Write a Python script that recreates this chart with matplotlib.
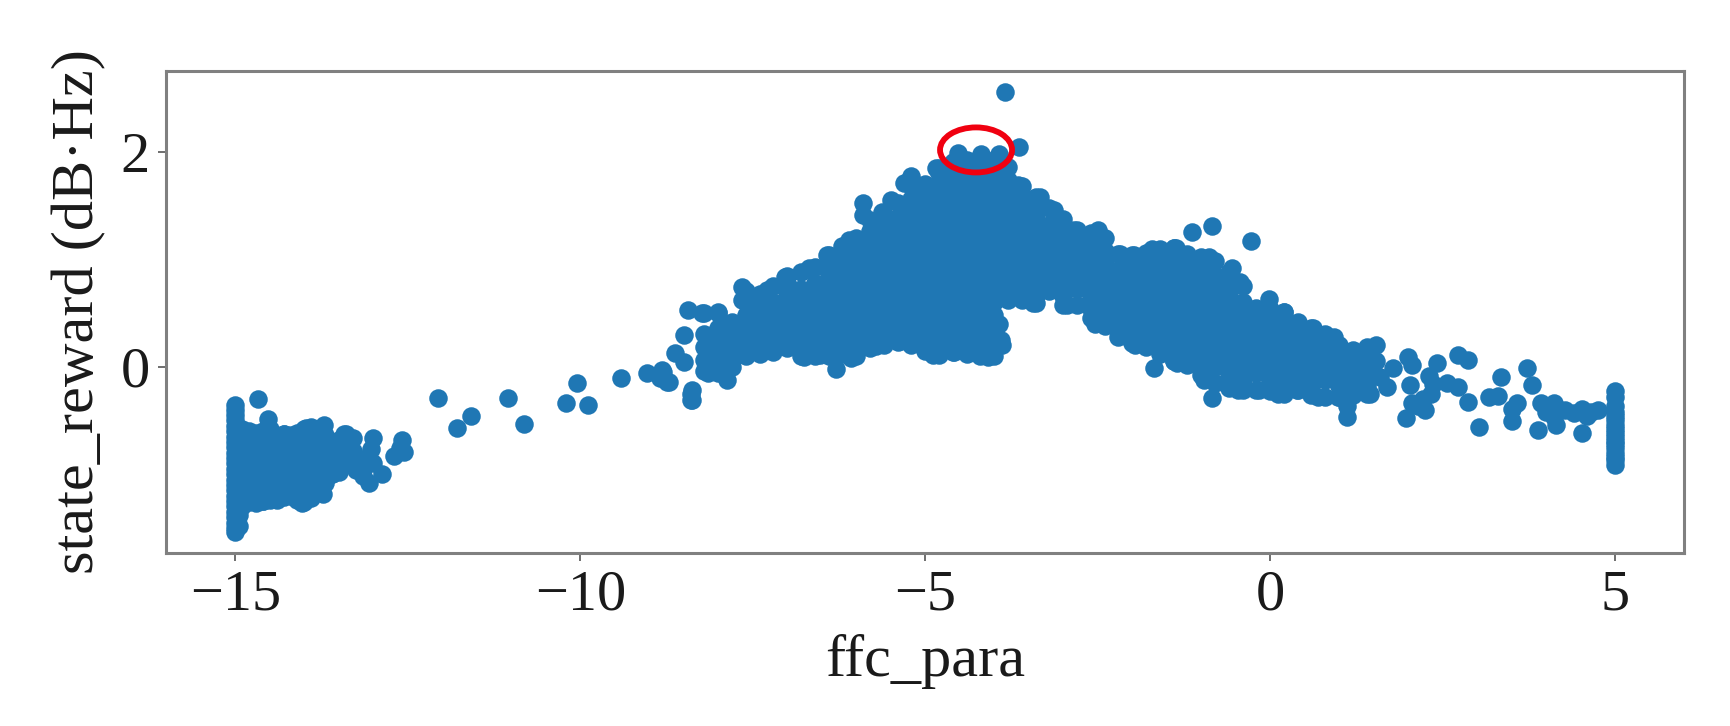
from matplotlib import pyplot as plt
from matplotlib.patches import Ellipse

plt.rcParams['font.family'] = ['Liberation Serif', 'DejaVu Serif']

# points, sparse ones first
sparse_x = [-12.06, -11.79, -11.58, -11.05, -10.81, -10.05, -10.21, -9.89, -9.41, -9.04, -8.82, -8.85, -8.71,
            -8.38, -8.38, -8.75, -8.80, -8.39, -8.39]
sparse_y = [-0.29, -0.566, -0.46, -0.29, -0.53, -0.15, -0.34, -0.36, -0.11, -0.055, -0.03, -0.11, -0.14,
            -0.217, -0.31, -0.14, -0.05, -0.25, -0.31]

# left block, column at the clip value first
left_col_x = [-15.0, -14.9, -14.8, -14.7, -14.6, -14.5, -14.4, -14.3, -14.2, -14.1, -14.0, -13.9, -13.8, -13.7,
              -13.6, -13.5, -13.4, -13.3]
left_col_y = [
    [-0.36, -0.40, -0.45, -0.50, -0.55, -0.60, -0.65, -0.70, -0.75, -0.80, -0.85, -0.90, -0.95, -1.00, -1.05,
     -1.10, -1.15, -1.20, -1.25, -1.30, -1.35, -1.40, -1.45, -1.50, -1.535],
    [-0.58, -0.70, -0.82, -0.94, -1.06, -1.18, -1.30],
    [-0.60, -0.66, -0.78, -0.90, -1.02, -1.14, -1.26],
    [-0.62, -0.72, -0.84, -0.96, -1.08, -1.20, -1.27],
    [-0.60, -0.72, -0.84, -0.96, -1.08, -1.20, -1.25],
    [-0.58, -0.66, -0.78, -0.90, -1.02, -1.14, -1.24],
    [-0.66, -0.78, -0.90, -1.02, -1.14, -1.24],
    [-0.63, -0.72, -0.84, -0.96, -1.08, -1.20],
    [-0.64, -0.72, -0.84, -0.96, -1.08, -1.20],
    [-0.62, -0.78, -0.90, -1.02, -1.14, -1.24],
    [-0.58, -0.66, -0.78, -0.90, -1.02, -1.14, -1.26],
    [-0.56, -0.72, -0.84, -0.96, -1.08, -1.22],
    [-0.58, -0.72, -0.84, -0.96, -1.08, -1.16],
    [-0.64, -0.78, -0.90, -1.00, -1.08],
    [-0.70, -0.78, -0.90, -1.00],
    [-0.68, -0.80, -0.90, -0.98],
    [-0.63, -0.72, -0.84, -0.90],
    [-0.66, -0.78, -0.88],
]
left_x = [-14.67, -14.53, -14.3, -13.97, -13.72, -13.87, -13.42, -13.53, -13.0, -13.03, -12.58, -12.55, -12.70,
          -12.88, -13.07, -13.25, -13.25, -13.6, -13.73, -14.03, -14.3, -14.6, -13.0, -13.1, -14.95, -14.95,
          -13.15, -13.15, -12.62]
left_y = [-0.30, -0.49, -0.63, -0.57, -0.54, -0.58, -0.63, -0.70, -0.66, -0.77, -0.68, -0.79, -0.83,
          -1.0, -1.08, -0.85, -0.96, -1.0, -1.18, -1.27, -1.21, -1.25, -0.9, -0.85, -1.38, -1.48,
          -0.95, -1.02, -0.76]

# main cloud, one y list per x column
core_x = [-8.2, -8.0, -7.8, -7.6, -7.4, -7.2, -7.0, -6.8, -6.6, -6.4, -6.2, -6.0, -5.8, -5.6, -5.4, -5.2, -5.0,
          -4.8, -4.6, -4.4, -4.2, -4.0, -3.8, -3.6, -3.4, -3.2, -3.0, -2.8, -2.6, -2.4, -2.2, -2.0, -1.8, -1.6,
          -1.4, -1.2, -1.0, -0.8, -0.6, -0.4, -0.2, 0.0, 0.2, 0.4, 0.6, 0.8, 1.0, 1.2, 1.4]
core_y = [
    [-0.04, 0.06, 0.18, 0.30, 0.50],
    [-0.06, 0.00, 0.12, 0.24, 0.36, 0.50],
    [0.00, 0.06, 0.18, 0.30, 0.42],
    [0.10, 0.24, 0.36, 0.48, 0.60, 0.70],
    [0.12, 0.18, 0.30, 0.42, 0.54, 0.68],
    [0.14, 0.24, 0.36, 0.48, 0.60, 0.75],
    [0.17, 0.30, 0.42, 0.54, 0.66, 0.78, 0.84],
    [0.10, 0.24, 0.36, 0.48, 0.60, 0.72, 0.88],
    [0.10, 0.18, 0.30, 0.42, 0.54, 0.66, 0.78, 0.93],
    [0.10, 0.24, 0.36, 0.48, 0.60, 0.72, 0.84, 0.96, 1.04],
    [0.12, 0.18, 0.30, 0.42, 0.54, 0.66, 0.78, 0.90, 1.02, 1.12],
    [0.10, 0.24, 0.36, 0.48, 0.60, 0.72, 0.84, 0.96, 1.08, 1.20],
    [0.17, 0.30, 0.42, 0.54, 0.66, 0.78, 0.90, 1.02, 1.14, 1.26, 1.36],
    [0.20, 0.24, 0.36, 0.48, 0.60, 0.72, 0.84, 0.96, 1.08, 1.20, 1.32, 1.42],
    [0.23, 0.30, 0.42, 0.54, 0.66, 0.78, 0.90, 1.02, 1.14, 1.26, 1.38, 1.52],
    [0.20, 0.24, 0.36, 0.48, 0.60, 0.72, 0.84, 0.96, 1.08, 1.20, 1.32, 1.44, 1.56, 1.68, 1.75],
    [0.15, 0.18, 0.30, 0.42, 0.54, 0.66, 0.78, 0.90, 1.02, 1.14, 1.26, 1.38, 1.50, 1.62, 1.70],
    [0.11, 0.24, 0.36, 0.48, 0.60, 0.72, 0.84, 0.96, 1.08, 1.20, 1.32, 1.44, 1.56, 1.68, 1.80, 1.85],
    [0.14, 0.18, 0.30, 0.42, 0.54, 0.66, 0.78, 0.90, 1.02, 1.14, 1.26, 1.38, 1.50, 1.62, 1.74, 1.86, 1.90],
    [0.12, 0.24, 0.36, 0.48, 0.60, 0.72, 0.84, 0.96, 1.08, 1.20, 1.32, 1.44, 1.56, 1.68, 1.80, 1.92],
    [0.10, 0.18, 0.30, 0.42, 0.54, 0.66, 0.78, 0.90, 1.02, 1.14, 1.26, 1.38, 1.50, 1.62, 1.74, 1.86, 1.92],
    [0.10, 0.24, 0.36, 0.48, 0.60, 0.72, 0.84, 0.96, 1.08, 1.20, 1.32, 1.44, 1.56, 1.68, 1.80, 1.92],
    [0.62, 0.66, 0.78, 0.90, 1.02, 1.14, 1.26, 1.38, 1.50, 1.62, 1.74, 1.86],
    [0.62, 0.72, 0.84, 0.96, 1.08, 1.20, 1.32, 1.44, 1.56, 1.68],
    [0.59, 0.66, 0.78, 0.90, 1.02, 1.14, 1.26, 1.38, 1.50, 1.58],
    [0.70, 0.72, 0.84, 0.96, 1.08, 1.20, 1.32, 1.48],
    [0.575, 0.66, 0.78, 0.90, 1.02, 1.14, 1.26, 1.37],
    [0.575, 0.72, 0.84, 0.96, 1.08, 1.20, 1.27],
    [0.45, 0.54, 0.66, 0.78, 0.90, 1.02, 1.14, 1.24],
    [0.38, 0.48, 0.60, 0.72, 0.84, 0.96, 1.08, 1.20],
    [0.28, 0.42, 0.54, 0.66, 0.78, 0.90, 1.05],
    [0.22, 0.36, 0.48, 0.60, 0.72, 0.84, 0.96, 1.04],
    [0.18, 0.30, 0.42, 0.54, 0.66, 0.78, 0.90, 1.02, 1.06],
    [0.12, 0.24, 0.36, 0.48, 0.60, 0.72, 0.84, 0.96, 1.09],
    [0.05, 0.18, 0.30, 0.42, 0.54, 0.66, 0.78, 0.90, 1.02, 1.10],
    [0.02, 0.12, 0.24, 0.36, 0.48, 0.60, 0.72, 0.84, 0.96, 1.05],
    [-0.08, 0.06, 0.18, 0.30, 0.42, 0.54, 0.66, 0.78, 0.90, 1.02],
    [-0.15, 0.00, 0.12, 0.24, 0.36, 0.48, 0.60, 0.72, 0.84, 0.98],
    [-0.20, -0.06, 0.06, 0.18, 0.30, 0.42, 0.54, 0.66, 0.78, 0.88],
    [-0.22, -0.12, 0.00, 0.12, 0.24, 0.36, 0.48, 0.60, 0.75],
    [-0.22, -0.06, 0.06, 0.18, 0.30, 0.42, 0.55],
    [-0.23, -0.12, 0.00, 0.12, 0.24, 0.36, 0.48, 0.54],
    [-0.25, -0.18, -0.06, 0.06, 0.18, 0.30, 0.42, 0.51],
    [-0.22, -0.12, 0.00, 0.12, 0.24, 0.36, 0.42],
    [-0.26, -0.18, -0.06, 0.06, 0.18, 0.30, 0.36],
    [-0.28, -0.12, 0.00, 0.12, 0.24, 0.30],
    [-0.28, -0.18, -0.06, 0.06, 0.20],
    [-0.26, -0.12, 0.00, 0.14],
    [-0.25, -0.18, -0.06, 0.06, 0.18],
]

# points standing off the edge of the cloud
edge_x = [-3.837, -3.635, -4.53, -4.40, -4.185, -3.935, -8.44, -8.23, -8.0, -8.5, -8.63, -8.49, -7.66, -7.66,
          -7.30, -7.03, -6.68, -6.42, -6.11, -5.90, -5.90, -5.49, -5.62, -5.20, -5.31, -4.84, -3.81, -3.65, -3.34,
          -3.13, -2.85, -2.49, -2.18, -1.97, -1.71, -1.40, -7.87, -8.15, -6.75, -6.52, -6.08, -6.30, -5.72, -5.36,
          -4.89, -4.58, -4.09, -3.93, -3.90, -3.88, -3.44, -2.95, -2.54, -1.97, -1.69, -1.40, -0.84, -1.13, -0.27,
          -1.37, -0.88, -0.55, -0.44, -0.01, 0.20, -0.30, 0.615, 0.92, 1.53, 1.20, 1.11, 1.11, -1.35, -0.96, -0.47,
          -0.16, 0.12, 0.39, 0.70, 0.98, 1.45, -0.84, -1.96]
edge_y = [2.552, 2.04, 1.985, 1.90, 1.978, 1.978, 0.527, 0.50, 0.51, 0.295, 0.127, 0.04, 0.744, 0.62,
          0.71, 0.837, 0.915, 1.04, 1.18, 1.52, 1.41, 1.55, 1.44, 1.77, 1.71, 1.85, 1.86, 1.69, 1.58,
          1.46, 1.27, 1.27, 1.05, 1.04, 1.09, 1.10, -0.125, -0.06, 0.09, 0.11, 0.08, -0.02, 0.19, 0.235,
          0.11, 0.14, 0.09, 0.40, 0.25, 0.20, 0.59, 0.575, 0.40, 0.22, -0.015, 0.05, 1.309, 1.25, 1.17,
          1.10, 1.02, 0.915, 0.79, 0.63, 0.51, 0.54, 0.357, 0.28, 0.20, 0.155, -0.37, -0.47, 0.03, -0.12, -0.22,
          -0.22, -0.25, -0.22, -0.28, -0.28, -0.25, -0.29, 0.20]

# right tail
right_x = [1.53, 1.78, 1.70, 1.60, 2.0, 2.06, 2.03, 2.05, 1.97, 2.25, 2.33, 2.31, 2.42, 2.56, 2.72, 2.72, 2.87, 2.87,
           3.166, 3.30, 3.345, 3.03, 3.58, 3.50, 3.50, 3.72, 3.80, 3.88, 3.92, 4.11, 4.11, 4.14, 4.28, 4.515, 4.515,
           4.59, 4.75, 2.15, 2.22, 2.36, 4.0, 4.4, 4.65]
right_y = [0.05, -0.016, -0.19, -0.10, 0.093, 0.015, -0.17, -0.34, -0.48, -0.40, -0.25, -0.09, 0.03, -0.15, 0.11, -0.19,
           0.06, -0.33, -0.28, -0.27, -0.10, -0.565, -0.335, -0.39, -0.51, -0.015, -0.17, -0.59, -0.34, -0.34, -0.465,
           -0.54, -0.40, -0.39, -0.62, -0.46, -0.40, -0.37, -0.30, -0.16, -0.42, -0.43, -0.42]
clip_right_y = [-0.23, -0.28, -0.37, -0.42, -0.46, -0.50, -0.54, -0.58, -0.62, -0.65, -0.69, -0.72, -0.76, -0.80,
                -0.84, -0.87, -0.914]
clip_right_x = [5.0] * len(clip_right_y)

circle_center = (-4.263, 2.016)
circle_w = 1.044
circle_h = 0.419

x_ticks = [-15, -10, -5, 0, 5]
y_ticks = [0, 2]


def flatten(col_x, col_y):
    xs, ys = [], []
    for x, col in zip(col_x, col_y):
        for y in col:
            xs.append(x)
            ys.append(y)
    return xs, ys


fig = plt.figure(figsize=(17.3, 7.26), dpi=100)
ax = fig.add_axes([166.4/1730, 1-553.3/726, (1684-166.4)/1730, (553.3-70.7)/726])

lx, ly = flatten(left_col_x, left_col_y)
cx, cy = flatten(core_x, core_y)
all_x = sparse_x + lx + left_x + cx + edge_x + right_x + clip_right_x
all_y = sparse_y + ly + left_y + cy + edge_y + right_y + clip_right_y
ax.scatter(all_x, all_y, s=178, color='#1f77b4', linewidths=0)

ax.add_patch(Ellipse(circle_center, circle_w, circle_h, fill=False, edgecolor='#f00010', linewidth=4.2, zorder=5))

ax.set_xlim(-16.0, 6.0)
ax.set_ylim(-1.736, 2.753)
ax.set_xticks(x_ticks)
ax.set_yticks(y_ticks)
ax.tick_params(labelsize=42, length=6, width=1.2, color='#555555', labelcolor='#1a1a1a', pad=6)
ax.set_xlabel('ffc_para', fontsize=43.5, color='#1a1a1a', labelpad=9)
ax.set_ylabel('state_reward (dB·Hz)', fontsize=43.5, color='#1a1a1a', labelpad=10)
for side in ax.spines.values():
    side.set_color('#808080')
    side.set_linewidth(2.2)

fig.savefig('out.png', dpi=100)
